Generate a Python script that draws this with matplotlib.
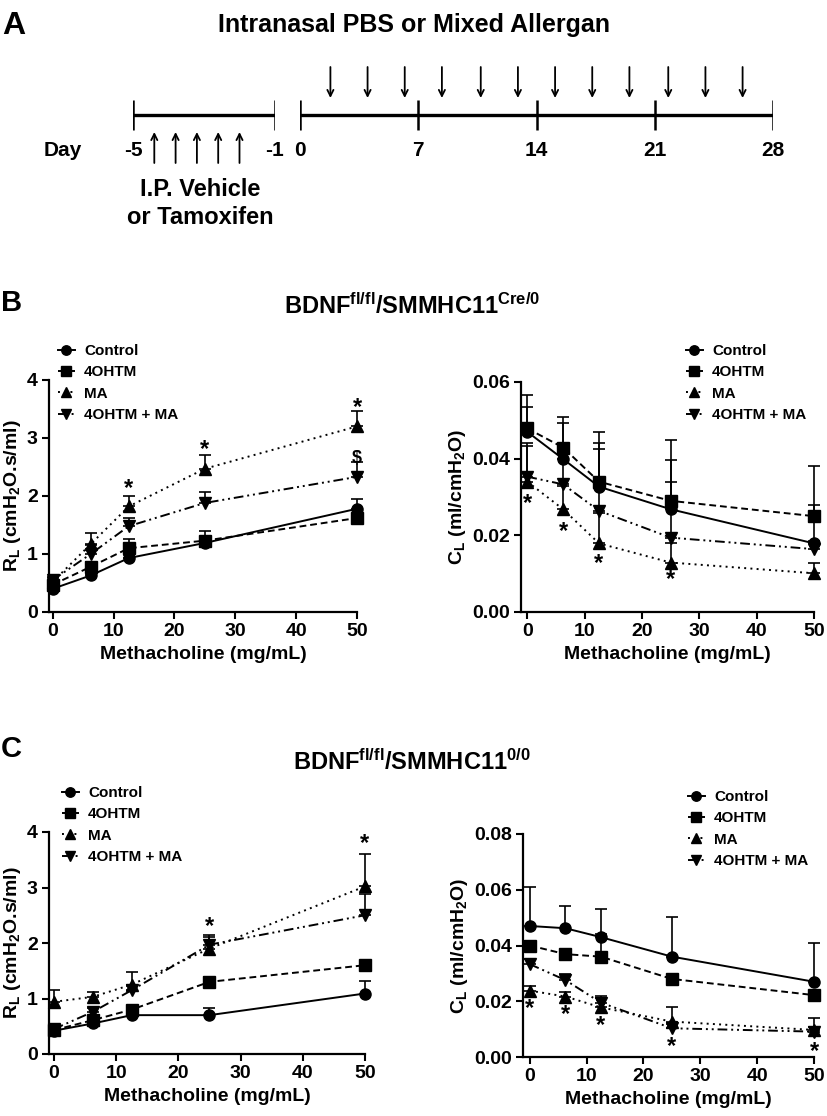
import matplotlib
matplotlib.use("Agg")
import matplotlib.pyplot as plt
import matplotlib.transforms as mtransforms
import numpy as np

plt.rcParams['font.family'] = ['Liberation Sans', 'DejaVu Sans']
plt.rcParams['font.weight'] = 'bold'
plt.rcParams['axes.labelweight'] = 'bold'
plt.rcParams['mathtext.fontset'] = 'custom'
plt.rcParams['mathtext.rm'] = 'Liberation Sans:bold'
plt.rcParams['mathtext.bf'] = 'Liberation Sans:bold'
plt.rcParams['mathtext.it'] = 'Liberation Sans:bold'
plt.rcParams['mathtext.default'] = 'bf'

W, H = 827, 1116
NARROW = ['Liberation Sans Narrow', 'Liberation Sans']

# --- panel A : protocol timeline
pre_days = [-5, -1]
post_days = [0, 7, 14, 21, 28]
ip_days = [-4.4, -3.8, -3.2, -2.6, -2.0]
in_days = [1.8, 4.0, 6.2, 8.4, 10.7, 12.9, 15.1, 17.3, 19.5, 21.8, 24.0, 26.2]

# --- methacholine dose response
mch = [0, 6.25, 12.5, 25, 50]
groups = ['Control', '4OHTM', 'MA', '4OHTM + MA']

# B : BDNF fl/fl / SMMHC11 Cre/0
b_rl = [[0.40, 0.63, 0.93, 1.19, 1.78],
        [0.47, 0.78, 1.10, 1.23, 1.62],
        [0.52, 1.17, 1.82, 2.47, 3.20],
        [0.55, 1.00, 1.48, 1.88, 2.33]]
b_rl_err = [[0.04, 0.05, 0.05, 0.06, 0.16],
            [0.04, 0.08, 0.16, 0.17, 0.04],
            [0.06, 0.20, 0.18, 0.24, 0.27],
            [0.05, 0.15, 0.14, 0.19, 0.26]]
b_cl = [[0.0470, 0.0399, 0.0327, 0.0268, 0.0179],
        [0.0479, 0.0429, 0.0340, 0.0290, 0.0250],
        [0.0340, 0.0268, 0.0179, 0.0129, 0.0101],
        [0.0353, 0.0333, 0.0264, 0.0194, 0.0164]]
b_cl_err = [[0.0064, 0.0094, 0.0113, 0.0129, 0.0101],
            [0.0086, 0.0080, 0.0130, 0.0160, 0.0130],
            [0.0094, 0.0060, 0.0080, 0.0050, 0.0028],
            [0.0087, 0.0080, 0.0162, 0.0146, 0.0020]]
b_rl_marks = [(12.5, 2.22, '*'), (25, 2.88, '*'), (50, 3.62, '*'), (50, 2.74, '$')]
b_cl_marks = [(0, 0.0296, '*'), (6.25, 0.0222, '*'), (12.5, 0.0140, '*'), (25, 0.0097, '*')]

# C : BDNF fl/fl / SMMHC11 0/0
c_rl = [[0.42, 0.55, 0.70, 0.70, 1.09],
        [0.43, 0.61, 0.80, 1.30, 1.60],
        [0.94, 1.03, 1.25, 1.90, 3.02],
        [0.45, 0.76, 1.15, 1.97, 2.50]]
c_rl_err = [[0.03, 0.04, 0.04, 0.12, 0.22],
            [0.03, 0.05, 0.04, 0.08, 0.04],
            [0.21, 0.09, 0.22, 0.25, 0.58],
            [0.03, 0.06, 0.08, 0.14, 0.39]]
c_cl = [[0.0470, 0.0462, 0.0430, 0.0360, 0.0270],
        [0.0400, 0.0369, 0.0360, 0.0280, 0.0222],
        [0.0238, 0.0217, 0.0178, 0.0127, 0.0097],
        [0.0333, 0.0276, 0.0195, 0.0103, 0.0091]]
c_cl_err = [[0.0141, 0.0080, 0.0102, 0.0141, 0.0140],
            [0.0015, 0.0015, 0.0080, 0.0015, 0.0015],
            [0.0015, 0.0015, 0.0032, 0.0053, 0.0042],
            [0.0017, 0.0020, 0.0024, 0.0015, 0.0015]]
c_rl_marks = [(25, 2.38, '*'), (50, 3.89, '*')]
c_cl_marks = [(0, 0.0193, '*'), (6.25, 0.0169, '*'), (12.5, 0.0130, '*'),
              (25, 0.0055, '*'), (50, 0.0037, '*')]

styles = ['-', (0, (3.5, 2)), (0, (1, 2.2)), (0, (5, 2, 1, 2, 1, 2))]
markers = ['o', 's', '^', 'v']

fig = plt.figure(figsize=(W / 100, H / 100), dpi=100)


def px_axes(x0, y0, x1, y1):
    return fig.add_axes([x0 / W, 1 - y1 / H, (x1 - x0) / W, (y1 - y0) / H])


def fig_text(x, y, s, **kw):
    fig.text(x / W, 1 - y / H, s, **kw)


# ---------------- panel A
def timeline(ax, days, lim):
    ax.set_xlim(*lim)
    ax.set_ylim(-115, 55)
    ax.axis('off')
    ax.plot([days[0], days[-1]], [0, 0], color='black', lw=2.4, solid_capstyle='butt')
    ax.vlines(days, -15, 15, color='black', lw=1.8)
    for d in days:
        ax.text(d, -36, str(d), ha='center', va='center', fontsize=15,
                family=NARROW, fontweight='bold')


ax_pre = px_axes(133, 60, 275, 230)
timeline(ax_pre, pre_days, (-5, -1))
for d in ip_days:
    ax_pre.annotate('', xy=(d, -17), xytext=(d, -48),
                    arrowprops=dict(arrowstyle='->', lw=1.3, color='black',
                                    mutation_scale=11, shrinkA=0, shrinkB=0))

ax_post = px_axes(300, 60, 773, 230)
timeline(ax_post, post_days, (0, 28))
for d in in_days:
    ax_post.annotate('', xy=(d, 17), xytext=(d, 48),
                     arrowprops=dict(arrowstyle='->', lw=1.3, color='black',
                                     mutation_scale=11, shrinkA=0, shrinkB=0))

fig_text(2, 26, 'A', fontsize=23, ha='left', va='center', fontweight='bold')
fig_text(414, 25, 'Intranasal PBS or Mixed Allergan', fontsize=18, ha='center',
         va='center', family=NARROW, fontweight='bold')
fig_text(63, 150, 'Day', fontsize=15, ha='center', va='center', family=NARROW)
fig_text(200, 190, 'I.P. Vehicle', fontsize=17, ha='center', va='center', family=NARROW)
fig_text(200, 217, 'or Tamoxifen', fontsize=17, ha='center', va='center', family=NARROW)


# ---------------- dose-response panels
def dose_panel(ax, means, errs, xlim, ylim, yticks, yfmt, ylabel, marks, leg_px):
    handles = []
    for i in range(4):
        lo = np.zeros(len(mch))
        eb = ax.errorbar(mch, means[i], yerr=[lo, errs[i]], color='black',
                         ls=styles[i], lw=1.4, marker=markers[i], ms=8,
                         capsize=4.5, elinewidth=1.2, capthick=1.2, clip_on=False)
        handles.append(eb[0])
    # asterisks sit high in the font, so nudge them down a little
    star_tr = mtransforms.offset_copy(ax.transData, fig=fig, y=-5, units='dots')
    for x, y, s in marks:
        ax.text(x, y, s, ha='center', va='center', transform=star_tr,
                fontsize=17 if s == '*' else 13, fontweight='bold')
    ax.set_xlim(*xlim)
    ax.set_ylim(*ylim)
    ax.set_xticks([0, 10, 20, 30, 40, 50])
    ax.set_yticks(yticks)
    ax.set_yticklabels([yfmt.format(v) for v in yticks])
    for side in ['top', 'right']:
        ax.spines[side].set_visible(False)
    for side in ['left', 'bottom']:
        ax.spines[side].set_linewidth(1.6)
    ax.spines['bottom'].set_bounds(xlim[0], 50)
    ax.tick_params(direction='out', length=5, width=1.5, labelsize=14, pad=3)
    ax.set_xlabel('Methacholine (mg/mL)', fontsize=14, labelpad=4)
    ax.set_ylabel(ylabel, fontsize=14, labelpad=3)
    ax.legend(handles, groups, loc='upper left', frameon=False, fontsize=11,
              bbox_to_anchor=(leg_px[0] / W, 1 - leg_px[1] / H),
              bbox_transform=fig.transFigure, handlelength=1.1,
              handletextpad=0.6, labelspacing=0.48, borderpad=0, borderaxespad=0,
              markerscale=0.85)


rl_label = r'R$_L$ (cmH$_2$O.s/ml)'
cl_label = r'C$_L$ (ml/cmH$_2$O)'

ax = px_axes(49, 380, 357, 612)
dose_panel(ax, b_rl, b_rl_err, (-0.6, 50), (0, 4), [0, 1, 2, 3, 4], '{:g}',
           rl_label, b_rl_marks, (58, 344))
ax = px_axes(521, 382, 814, 612)
dose_panel(ax, b_cl, b_cl_err, (-1.1, 50), (0, 0.06), [0, 0.02, 0.04, 0.06], '{:.2f}',
           cl_label, b_cl_marks, (686, 344))
ax = px_axes(49, 832, 365, 1054)
dose_panel(ax, c_rl, c_rl_err, (-0.8, 50), (0, 4), [0, 1, 2, 3, 4], '{:g}',
           rl_label, c_rl_marks, (62, 786))
ax = px_axes(523, 834, 814, 1057)
dose_panel(ax, c_cl, c_cl_err, (-1.2, 50), (0, 0.08), [0, 0.02, 0.04, 0.06, 0.08],
           '{:.2f}', cl_label, c_cl_marks, (688, 790))

fig_text(1, 303, 'B', fontsize=21, ha='left', va='center', fontweight='bold')
fig_text(412, 306, r'BDNF$^{fl/fl}$/SMMHC11$^{Cre/0}$', fontsize=17, ha='center',
         va='center')
fig_text(1, 749, 'C', fontsize=21, ha='left', va='center', fontweight='bold')
fig_text(412, 762, r'BDNF$^{fl/fl}$/SMMHC11$^{0/0}$', fontsize=17, ha='center',
         va='center')

fig.savefig('out.png', dpi=100)
